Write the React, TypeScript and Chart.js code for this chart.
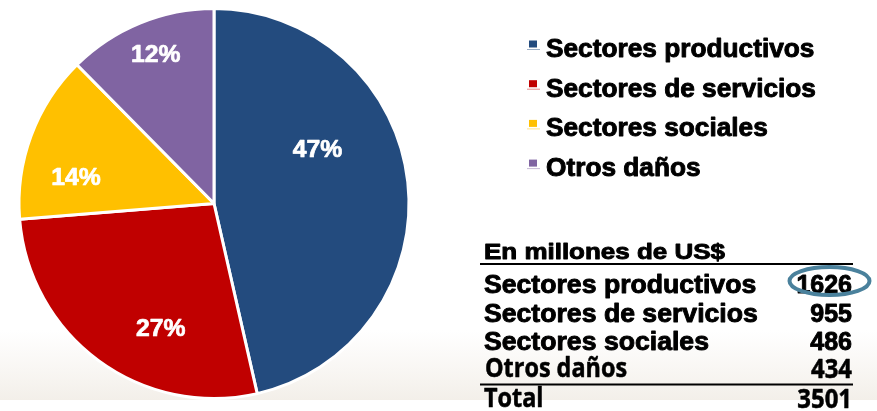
import { useEffect, useRef } from "react";
import { Chart, registerables } from "chart.js";

Chart.register(...registerables);

// ---- data ----
const categories = ["Sectores productivos", "Sectores de servicios", "Sectores sociales", "Otros daños"];
const values = [1626, 955, 486, 434];
const percentLabels = ["47%", "27%", "14%", "12%"];
const tableTitle = "En millones de US$";
const totalLabel = "Total";
const totalValue = 3501;
const highlightedRow = 0;

// ---- styles ----
const colors = ["#234B7E", "#C00000", "#FFC000", "#8064A2"];
const ARIAL = '"Liberation Sans", Arial, sans-serif';
const CALIBRI = '"Open Sans", "Noto Sans", sans-serif';
// [fraction of slice angle, fraction of radius] for percentage labels
const labelPlacement = [
  [0.369, 0.605],
  [0.368, 0.687],
  [0.314, 0.72],
  [0.527, 0.825],
];
const rowCalibri = [false, false, false, true];

function txt(
  ctx: CanvasRenderingContext2D,
  s: string,
  x: number,
  y: number,
  font: string,
  align: CanvasTextAlign,
  sx = 1,
  color = "#000",
  heavy = 0.9
) {
  ctx.save();
  ctx.font = font;
  ctx.fillStyle = color;
  ctx.strokeStyle = color;
  ctx.lineJoin = "round";
  ctx.textBaseline = "alphabetic";
  ctx.textAlign = align;
  ctx.translate(x, y);
  ctx.scale(sx, 1);
  ctx.fillText(s, 0, 0);
  if (heavy > 0) {
    ctx.lineWidth = heavy;
    ctx.strokeText(s, 0, 0);
  }
  ctx.restore();
}

const bgPlugin = {
  id: "bgGradient",
  beforeDraw(chart: any) {
    const { ctx, width, height } = chart;
    ctx.save();
    ctx.fillStyle = "#ffffff";
    ctx.fillRect(0, 0, width, height);
    const g = ctx.createLinearGradient(0, 330, 0, 400);
    g.addColorStop(0, "rgba(244,241,236,0)");
    g.addColorStop(1, "rgba(243,239,233,1)");
    ctx.fillStyle = g;
    ctx.fillRect(0, 330, width, 70);
    ctx.restore();
  },
};

const pctPlugin = {
  id: "pctLabels",
  afterDatasetsDraw(chart: any) {
    const ctx = chart.ctx as CanvasRenderingContext2D;
    const meta = chart.getDatasetMeta(0);
    meta.data.forEach((arc: any, i: number) => {
      const { x, y, startAngle, endAngle, outerRadius } = arc.getProps(
        ["x", "y", "startAngle", "endAngle", "outerRadius"],
        true
      );
      const [fa, fr] = labelPlacement[i];
      const a = startAngle + fa * (endAngle - startAngle);
      const r = fr * outerRadius;
      const lx = x + r * Math.cos(a);
      const ly = y + r * Math.sin(a);
      txt(ctx, percentLabels[i], lx - 25, ly + 9, `bold 24px ${ARIAL}`, "left", 1.03, "#ffffff", 0.7);
    });
  },
};

const sidePlugin = {
  id: "legendAndTable",
  afterDraw(chart: any) {
    const ctx = chart.ctx as CanvasRenderingContext2D;
    // legend
    const legX = 529;
    const legTextX = 546;
    const legBase = 57;
    const legStep = 39.7;
    categories.forEach((c, i) => {
      const by = legBase + i * legStep;
      ctx.save();
      ctx.fillStyle = colors[i];
      ctx.fillRect(legX, by - 16.5, 8, 7);
      ctx.globalAlpha = 0.45;
      ctx.fillRect(legX - 2, by - 8, 13, 1);
      ctx.restore();
      txt(ctx, c, legTextX, by, `bold 25px ${ARIAL}`, "left", 1.05);
    });

    // table
    const left = 484;
    const right = 852;
    txt(ctx, tableTitle, left, 259, `bold 22px ${ARIAL}`, "left", 1.18);
    ctx.save();
    ctx.strokeStyle = "#000";
    ctx.lineWidth = 2;
    ctx.beginPath();
    ctx.moveTo(480, 264);
    ctx.lineTo(853, 264);
    ctx.moveTo(480, 384.5);
    ctx.lineTo(853, 384.5);
    ctx.stroke();
    ctx.restore();

    const rowBase = [293, 322, 350, 377];
    categories.forEach((c, i) => {
      const by = rowBase[i];
      if (rowCalibri[i]) {
        txt(ctx, c, left + 1, by, `bold 26px ${CALIBRI}`, "left", 0.9, "#000", 0.5);
        txt(ctx, String(values[i]), right, by + 1, `bold 26px ${CALIBRI}`, "right", 0.92, "#000", 0.5);
      } else {
        txt(ctx, c, left, by, `bold 25px ${ARIAL}`, "left", 1.065);
        txt(ctx, String(values[i]), right, by, `bold 25px ${ARIAL}`, "right", 1.0);
      }
      if (i === highlightedRow) {
        ctx.save();
        ctx.strokeStyle = "#4A819C";
        ctx.lineWidth = 4;
        ctx.beginPath();
        ctx.ellipse(right - 22.5, by - 12, 40, 14, 0, 0, Math.PI * 2);
        ctx.stroke();
        ctx.restore();
      }
    });
    txt(ctx, totalLabel, left, 407, `bold 26px ${CALIBRI}`, "left", 0.9, "#000", 0.5);
    txt(ctx, String(totalValue), right, 408, `bold 26px ${CALIBRI}`, "right", 0.92, "#000", 0.5);
  },
};

export default function App() {
  const ref = useRef<HTMLCanvasElement | null>(null);

  useEffect(() => {
    let chart: Chart | null = null;
    let cancelled = false;
    const make = () => {
      if (cancelled || !ref.current) return;
      chart = new Chart(ref.current, {
        type: "pie",
        data: {
          labels: categories,
          datasets: [
            {
              data: values,
              backgroundColor: colors,
              borderColor: "#ffffff",
              borderWidth: 3,
            },
          ],
        },
        options: {
          animation: false,
          responsive: false,
          maintainAspectRatio: false,
          devicePixelRatio: 1,
          layout: { padding: { left: 17.5, top: 7, bottom: 11, right: 466.5 } },
          plugins: {
            legend: { display: false },
            tooltip: { enabled: false },
            title: { display: false },
          },
        },
        plugins: [bgPlugin, pctPlugin, sidePlugin],
      });
    };
    const fontsReady = (document as any).fonts
      ? Promise.all([
          (document as any).fonts.load('bold 25px "Liberation Sans"', "Sectores ñ%0"),
          (document as any).fonts.load('bold 26px "Open Sans"', "Otros daños 3501"),
        ]).catch(() => null)
      : Promise.resolve(null);
    fontsReady.then(make);
    return () => {
      cancelled = true;
      if (chart) chart.destroy();
    };
  }, []);

  return (
    <div style={{ position: "fixed", left: 0, top: 0, width: 877, height: 411, background: "#fff" }}>
      <canvas ref={ref} width={877} height={411} style={{ display: "block", width: 877, height: 411 }} />
    </div>
  );
}
